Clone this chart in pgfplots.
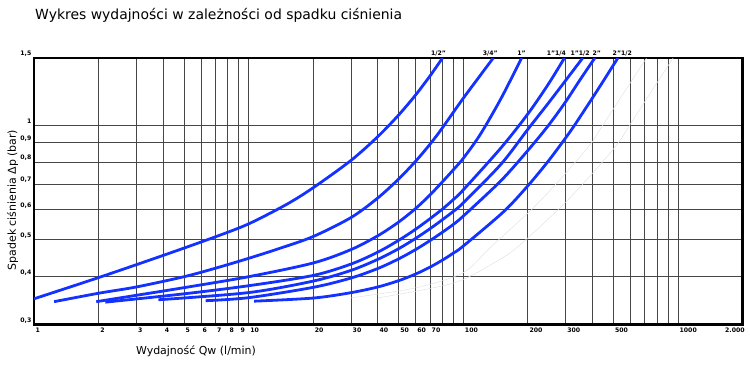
\documentclass[border=0pt]{standalone}
\usepackage{pgfplots}
\pgfplotsset{compat=1.18}
\usepackage{fontspec}
\setmainfont{DejaVu Sans}
\definecolor{cblue}{RGB}{20,50,255}
\definecolor{gridc}{RGB}{70,70,70}
\pgfplotsset{curve/.style={cblue, line width=2.8bp, smooth, tension=0.5, no marks},
  ghost/.style={gray!22, line width=0.5bp, smooth, no marks}}
\tikzset{clab/.style={font=\fontsize{6.2}{7}\selectfont\bfseries, inner sep=0pt, anchor=base, yshift=3bp}}
\begin{document}
\begin{tikzpicture}[x=1bp,y=1bp]
\path[use as bounding box] (0,0) rectangle (750,366);
\begin{axis}[
  at={(34bp,41.7bp)}, anchor=south west,
  width=708.5bp, height=266.3bp, scale only axis,
  xmode=log, ymode=log,
  xmin=1, xmax=2000, ymin=0.3, ymax=1.5,
  clip mode=individual,
  axis line style={line width=2.6bp, black},
  xtick={1,2,3,4,5,6,7,8,9,10,20,30,40,50,60,70,80,90,100,200,300,400,500,600,700,800,900,1000,2000},
  xticklabels={1,2,3,4,5,6,7,8,9,10,20,30,40,50,60,70,{},{},100,200,300,{},500,{},{},{},{},1000,\llap{2.000}},
  ytick={0.3,0.4,0.5,0.6,0.7,0.8,0.9,1,1.5},
  yticklabels={{0,3},{0,4},{0,5},{0,6},{0,7},{0,8},{0,9},{1},{1,5}},
  minor xtick={}, minor ytick={},
  grid=major,
  major grid style={gridc, line width=0.8bp},
  major tick length=0pt,
  xticklabel style={anchor=north west, font=\fontsize{6.2}{7}\selectfont\bfseries, inner sep=0pt, xshift=1.5bp, yshift=-3.6bp},
  yticklabel style={anchor=south east, font=\fontsize{6.2}{7}\selectfont\bfseries, inner sep=0pt, xshift=-2.5bp, yshift=1.2bp},
]
% faint ghost curves
\addplot[ghost] coordinates {(30,0.352) (60,0.374) (100,0.41) (135,0.48) (208,0.6) (270,0.7) (333,0.8) (397,0.9) (447,1.0) (714,1.5)};
\addplot[ghost] coordinates {(40,0.352) (90,0.385) (144,0.44) (180,0.48) (277,0.6) (360,0.7) (445,0.8) (529,0.9) (596,1.0) (950,1.5)};
% 1/2"
\addplot[curve] coordinates {(1,0.350) (2,0.398) (4,0.455) (7,0.509) (10,0.5505) (15,0.619) (20,0.685) (30,0.808) (40,0.933) (50,1.063) (60,1.200) (70,1.346) (80,1.5)};
% 3/4"
\addplot[curve] coordinates {(1.24,0.344) (2,0.362) (3,0.376) (5,0.40) (7,0.421) (10,0.447) (14,0.475) (20,0.510) (30,0.572) (40,0.644) (50,0.722) (60,0.804) (70,0.891) (80,0.984) (100,1.176) (138,1.5)};
% 1"
\addplot[curve] coordinates {(1.95,0.344) (3,0.3575) (5,0.3744) (10,0.40) (20,0.4346) (30,0.4713) (40,0.5124) (50,0.5566) (60,0.6042) (70,0.6557) (80,0.7101) (90,0.7640) (100,0.818) (120,0.945) (150,1.175) (187,1.5)};
% 1"1/4
\addplot[curve] coordinates {(2.15,0.343) (5,0.3607) (10,0.3788) (20,0.4031) (30,0.4318) (40,0.4641) (50,0.4984) (60,0.5330) (70,0.5680) (80,0.602) (90,0.638) (100,0.676) (150,0.872) (200,1.07) (250,1.285) (296,1.5)};
% 1"1/2
\addplot[curve] coordinates {(3.8,0.348) (10,0.3634) (20,0.3896) (30,0.4156) (40,0.4443) (50,0.4738) (60,0.5042) (70,0.5346) (80,0.5647) (90,0.594) (100,0.625) (150,0.79) (200,0.975) (250,1.145) (300,1.31) (360,1.5)};
% 2"
\addplot[curve] coordinates {(6.3,0.346) (10,0.3524) (20,0.3751) (30,0.3969) (40,0.4204) (50,0.4455) (60,0.4714) (70,0.4976) (80,0.5235) (90,0.549) (100,0.577) (150,0.715) (200,0.858) (250,1.0) (300,1.152) (350,1.315) (410,1.5)};
% 2"1/2
\addplot[curve] coordinates {(10.6,0.345) (20,0.3516) (30,0.3633) (40,0.376) (50,0.3906) (60,0.4065) (70,0.4238) (80,0.4423) (90,0.4615) (100,0.4814) (154,0.5922) (200,0.693) (247,0.80) (294,0.9116) (331,1.002) (420,1.23) (525,1.5)};
% curve labels
\node[clab, xshift=-4bp] at (axis cs:80,1.5) {1/2"};
\node[clab, xshift=-3bp] at (axis cs:138,1.5) {3/4"};
\node[clab] at (axis cs:187,1.5) {1"};
\node[clab, xshift=-8bp] at (axis cs:296,1.5) {1"1/4};
\node[clab, xshift=-2.5bp] at (axis cs:360,1.5) {1"1/2};
\node[clab, xshift=2bp] at (axis cs:410,1.5) {2"};
\node[clab, xshift=4.5bp] at (axis cs:525,1.5) {2"1/2};
\end{axis}
\node[anchor=base west, inner sep=0pt, font=\fontsize{14}{16}\selectfont] at (35,347) {Wykres wydajności w zależności od spadku ciśnienia};
\node[anchor=base, inner sep=0pt, font=\fontsize{11}{13}\selectfont] at (196,12) {Wydajność Qw (l/min)};
\node[rotate=90, inner sep=0pt, font=\fontsize{11}{13}\selectfont] at (12.7,166) {Spadek ciśnienia Δp (bar)};
\end{tikzpicture}
\end{document}
